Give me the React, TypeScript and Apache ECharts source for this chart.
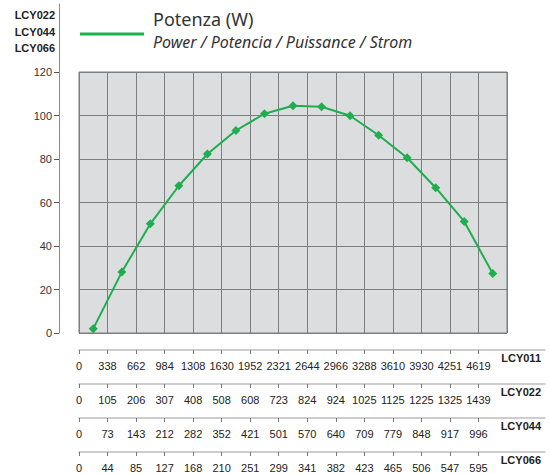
import React, { useEffect, useRef } from "react";
import * as echarts from "echarts";

const powerValues = [2.0, 28.0, 50.2, 67.7, 82.3, 93.1, 100.8, 104.5, 104.0, 99.9, 90.9, 80.6, 66.8, 51.3, 27.3];
const pointIndex = powerValues.map((_, i) => String(i + 1));
const yTicks = [0, 20, 40, 60, 80, 100, 120];

const lcy011 = ["0", "338", "662", "984", "1308", "1630", "1952", "2321", "2644", "2966", "3288", "3610", "3930", "4251", "4619"];
const lcy022 = ["0", "105", "206", "307", "408", "508", "608", "723", "824", "924", "1025", "1125", "1225", "1325", "1439"];
const lcy044 = ["0", "73", "143", "212", "282", "352", "421", "501", "570", "640", "709", "779", "848", "917", "996"];
const lcy066 = ["0", "44", "85", "127", "168", "210", "251", "299", "341", "382", "423", "465", "506", "547", "595"];
const flowScales = [
  { name: "LCY011", labels: lcy011 },
  { name: "LCY022", labels: lcy022 },
  { name: "LCY044", labels: lcy044 },
  { name: "LCY066", labels: lcy066 },
];
const modelNames = ["LCY022", "LCY044", "LCY066"];

const seriesName = "Potenza (W)";
const subTitle = "Power / Potencia / Puissance / Strom";

const NARROW = "'Liberation Sans', Arial, sans-serif";
const TITLE_FONT = "'Noto Sans', 'Open Sans', sans-serif";
const GREEN = "#1fae4f";

export default function App() {
  const ref = useRef<HTMLDivElement>(null);
  useEffect(() => {
    if (!ref.current) return;
    const chart = echarts.init(ref.current, undefined, { renderer: "svg" });

    const mainLeft = 79;
    const mainTop = 72;
    const mainBottomY = 333;
    const mainRight = 507;
    const unit = (mainRight - mainLeft) / powerValues.length;
    const stripRight = 545;
    const stripMax = (stripRight - mainLeft) / unit;
    const stripYs = [350, 384, 418, 452];
    const yAxisTop = 4;
    const yMaxExt = (120 * (mainBottomY - yAxisTop)) / (mainBottomY - mainTop);

    const grids: any[] = [
      { left: mainLeft, top: mainTop, width: mainRight - mainLeft, height: mainBottomY - mainTop, show: true, backgroundColor: "#dcdddf", borderColor: "#7d7d7d", borderWidth: 1 },
      { left: 59, top: yAxisTop, width: 1, height: mainBottomY - yAxisTop },
    ];
    const xAxes: any[] = [
      {
        type: "category", gridIndex: 0, data: pointIndex, boundaryGap: true,
        axisLine: { show: false }, axisTick: { show: false }, axisLabel: { show: false },
        splitLine: { show: true, interval: 0, lineStyle: { color: "#7d7d7d", width: 1 } },
      },
      { type: "value", gridIndex: 1, show: false, min: 0, max: 1 },
    ];
    const yAxes: any[] = [
      {
        type: "value", gridIndex: 0, min: 0, max: 120, interval: 20,
        axisLine: { show: false }, axisTick: { show: false }, axisLabel: { show: false },
        splitLine: { show: true, lineStyle: { color: "#7d7d7d", width: 1 } },
      },
      {
        type: "value", gridIndex: 1, min: 0, max: yMaxExt, position: "left",
        axisLine: { show: true, lineStyle: { color: "#8a8a8a", width: 1 } },
        axisTick: { show: true, length: 5, customValues: yTicks, lineStyle: { color: "#555" } },
        axisLabel: { show: true, customValues: yTicks, margin: 7, color: "#333", fontSize: 11, fontFamily: NARROW },
        splitLine: { show: false },
      },
    ];

    flowScales.forEach((fs, k) => {
      const gi = grids.length;
      grids.push({ left: mainLeft, top: stripYs[k] - 1, width: stripRight - mainLeft, height: 1 });
      const idx = fs.labels.map((_, i) => i);
      xAxes.push({
        type: "value", gridIndex: gi, min: 0, max: stripMax, position: "bottom",
        axisLine: { show: true, onZero: false, lineStyle: { color: "#bdbdbd", width: 1.5 } },
        axisTick: { show: true, length: 4, customValues: idx, lineStyle: { color: "#777" } },
        axisLabel: {
          show: true, customValues: idx, margin: 10, color: "#222", fontSize: 11, fontFamily: NARROW,
          formatter: (v: number) => fs.labels[Math.round(v)] ?? "",
        },
        splitLine: { show: false },
      });
      yAxes.push({ type: "value", gridIndex: gi, show: false, min: 0, max: 1 });
    });

    const graphics: any[] = [];
    modelNames.forEach((n, i) => {
      graphics.push({
        type: "text", x: 55, y: 15 + i * 16.7,
        style: { text: n, align: "right", verticalAlign: "middle", font: `bold 11px ${NARROW}`, fill: "#222" },
      });
    });
    flowScales.forEach((fs, k) => {
      graphics.push({
        type: "text", x: 541, y: stripYs[k] + 8,
        style: { text: fs.name, align: "right", verticalAlign: "middle", font: `bold 11px ${NARROW}`, fill: "#222" },
      });
    });

    chart.setOption({
      animation: false,
      backgroundColor: "#ffffff",
      grid: grids,
      xAxis: xAxes,
      yAxis: yAxes,
      legend: {
        show: true,
        left: 80,
        top: 10,
        padding: 0,
        icon: "rect",
        itemWidth: 64,
        itemHeight: 3,
        data: [seriesName],
        formatter: (name: string) => `{a|${name}}\n{b|${subTitle}}\n{c| }`,
        textStyle: {
          rich: {
            a: { fontSize: 18, fontFamily: TITLE_FONT, color: "#333", lineHeight: 22, padding: [0, 0, 0, 4] },
            b: { fontSize: 16, fontStyle: "italic", fontFamily: TITLE_FONT, color: "#333", lineHeight: 23, padding: [0, 0, 0, 4] },
            c: { fontSize: 4, lineHeight: 7 },
          },
        },
      },
      graphic: graphics,
      series: [
        {
          name: seriesName,
          type: "line",
          xAxisIndex: 0,
          yAxisIndex: 0,
          data: powerValues,
          symbol: "diamond",
          symbolSize: 9,
          itemStyle: { color: GREEN },
          lineStyle: { color: GREEN, width: 2 },
        },
      ],
    });
    return () => chart.dispose();
  }, []);
  return <div ref={ref} style={{ position: "fixed", left: 0, top: 0, width: 549, height: 474 }} />;
}
